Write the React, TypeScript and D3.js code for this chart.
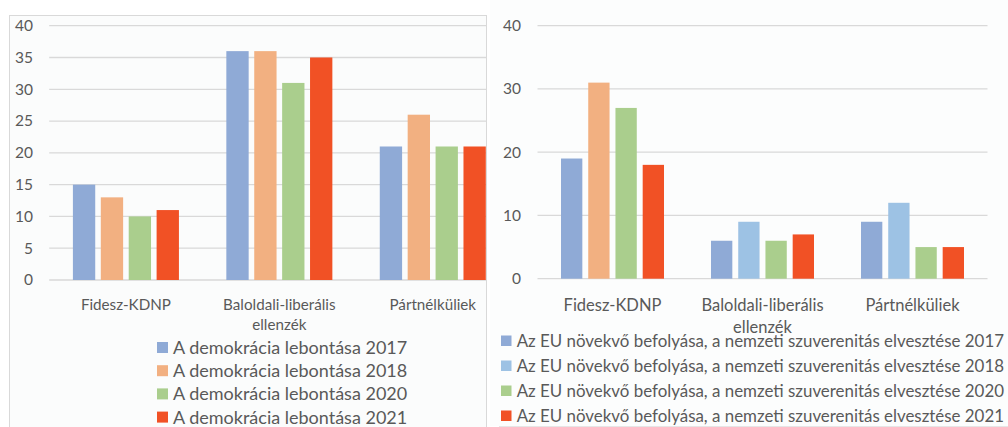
import React from "react";
import * as d3 from "d3";

const categories = ["Fidesz-KDNP", "Baloldali-liberális ellenzék", "Pártnélküliek"];
const categoryLines = [["Fidesz-KDNP"], ["Baloldali-liberális", "ellenzék"], ["Pártnélküliek"]];

const leftSeries = [
  "A demokrácia lebontása 2017",
  "A demokrácia lebontása 2018",
  "A demokrácia lebontása 2020",
  "A demokrácia lebontása 2021",
];
const leftValues = [
  [15, 36, 21],
  [13, 36, 26],
  [10, 31, 21],
  [11, 35, 21],
];

const rightSeries = [
  "Az EU növekvő befolyása, a nemzeti szuverenitás elvesztése 2017",
  "Az EU növekvő befolyása, a nemzeti szuverenitás elvesztése 2018",
  "Az EU növekvő befolyása, a nemzeti szuverenitás elvesztése 2020",
  "Az EU növekvő befolyása, a nemzeti szuverenitás elvesztése 2021",
];
const rightValues = [
  [19, 6, 9],
  [31, 9, 12],
  [27, 6, 5],
  [18, 7, 5],
];

const leftTicks = [0, 5, 10, 15, 20, 25, 30, 35, 40];
const rightTicks = [0, 10, 20, 30, 40];

const leftColors = ["#8FAAD6", "#F2B081", "#AACE8D", "#F15125"];
const rightColors = ["#8FAAD6", "#9DC2E4", "#AACE8D", "#F15125"];
// the 2018 Fidesz-KDNP bar of the right chart is drawn in orange in the original
const rightBarColorOverride: Record<string, string> = { "1-0": "#F2B081" };

const FONT = "Lato, 'Open Sans', sans-serif";
const TEXT = "#595959";
const GRID = "#D9D9D9";

export default function App() {
  // Left chart scales
  const lx0 = d3.scaleBand<string>().domain(categories).range([49.2, 509.5]).paddingInner(0.309).paddingOuter(0.1545);
  const lx1 = d3.scaleBand<number>().domain([0, 1, 2, 3]).range([0, lx0.bandwidth()]).paddingInner(0.2);
  const ly = d3.scaleLinear().domain([0, 40]).range([280, 25.7]);

  // Right chart scales
  const rx0 = d3.scaleBand<string>().domain(categories).range([537.5, 987.5]).paddingInner(0.3133).paddingOuter(0.1567);
  const rx1 = d3.scaleBand<number>().domain([0, 1, 2, 3]).range([0, rx0.bandwidth()]).paddingInner(0.217);
  const ry = d3.scaleLinear().domain([0, 40]).range([278.7, 25.7]);

  return (
    <svg width={1008} height={427} style={{ position: "absolute", left: 0, top: 0, fontFamily: FONT }}>
      <rect x={0} y={0} width={1008} height={427} fill="#FFFFFF" />
      <defs>
        <clipPath id="leftClip">
          <rect x={0} y={0} width={486} height={427} />
        </clipPath>
      </defs>

      {/* Left panel */}
      <rect x={9.5} y={15.5} width={477} height={420} fill="#FBFCFC" stroke="#D9D9D9" strokeWidth={1} />
      <g clipPath="url(#leftClip)">
        {leftTicks.map((t) => (
          <line key={t} x1={49.2} x2={509.5} y1={ly(t)} y2={ly(t)} stroke={GRID} strokeWidth={1.3} />
        ))}
        {leftValues.map((vals, s) =>
          vals.map((v, c) => (
            <rect
              key={`${s}-${c}`}
              x={lx0(categories[c])! + lx1(s)!}
              y={ly(v)}
              width={lx1.bandwidth()}
              height={ly(0) - ly(v)}
              fill={leftColors[s]}
            />
          ))
        )}
      </g>
      {leftTicks.map((t) => (
        <text key={t} x={33} y={ly(t)} dy="0.35em" textAnchor="end" fontSize={15.5} fill={TEXT}>
          {t}
        </text>
      ))}
      {categoryLines.map((lines, c) =>
        lines.map((ln, i) => (
          <text key={`${c}-${i}`} x={lx0(categories[c])! + lx0.bandwidth() / 2} y={309.5 + i * 20.5} textAnchor="middle" fontSize={15.2} fill={TEXT}>
            {ln}
          </text>
        ))
      )}
      {leftSeries.map((s, i) => (
        <g key={s}>
          <rect x={157} y={342 + i * 23.2} width={11} height={11} fill={leftColors[i]} />
          <text x={173} y={354 + i * 23.2} fontSize={18} fill={TEXT}>
            {s}
          </text>
        </g>
      ))}

      {/* Right panel */}
      <rect x={490} y={0} width={518} height={426} fill="#FCFDFD" />
      <line x1={499} x2={1008} y1={426.5} y2={426.5} stroke="#E6E6E6" />
      {rightTicks.map((t) => (
        <line key={t} x1={537.5} x2={987.5} y1={ry(t)} y2={ry(t)} stroke={GRID} strokeWidth={1.3} />
      ))}
      {rightValues.map((vals, s) =>
        vals.map((v, c) => (
          <rect
            key={`${s}-${c}`}
            x={rx0(categories[c])! + rx1(s)!}
            y={ry(v)}
            width={rx1.bandwidth()}
            height={ry(0) - ry(v)}
            fill={rightBarColorOverride[`${s}-${c}`] ?? rightColors[s]}
          />
        ))
      )}
      {rightTicks.map((t) => (
        <text key={t} x={521} y={ry(t)} dy="0.35em" textAnchor="end" fontSize={15.5} fill={TEXT}>
          {t}
        </text>
      ))}
      {categoryLines.map((lines, c) =>
        lines.map((ln, i) => (
          <text key={`${c}-${i}`} x={rx0(categories[c])! + rx0.bandwidth() / 2} y={310.7 + i * 22.5} textAnchor="middle" fontSize={16.5} fill={TEXT}>
            {ln}
          </text>
        ))
      )}
      {rightSeries.map((s, i) => (
        <g key={s}>
          <rect x={501} y={335.5 + i * 25} width={10.5} height={10.5} fill={rightColors[i]} />
          <text x={516.7} y={346.7 + i * 25} fontSize={16.9} fill={TEXT}>
            {s}
          </text>
        </g>
      ))}
    </svg>
  );
}
